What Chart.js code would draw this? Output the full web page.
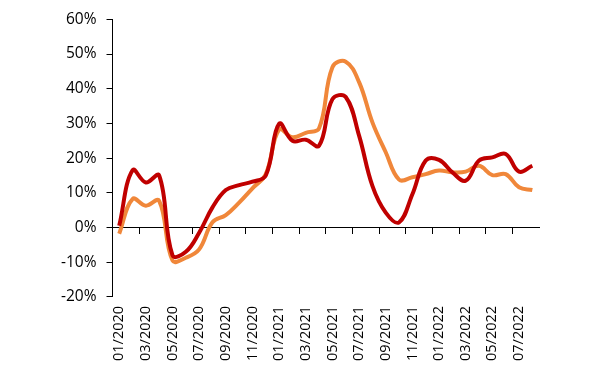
<!DOCTYPE html>
<html>
<head>
<meta charset="utf-8">
<script src="https://cdn.jsdelivr.net/npm/chart.js@4/dist/chart.umd.min.js"></script>
<style>
  html, body { margin: 0; padding: 0; background: #fff; }
  #wrap { width: 592px; height: 370px; position: relative; }
</style>
</head>
<body>
<div id="wrap"><canvas id="c"></canvas></div>
<script>
const categories = [
  "01/2020","02/2020","03/2020","04/2020","05/2020","06/2020","07/2020","08/2020",
  "09/2020","10/2020","11/2020","12/2020","01/2021","02/2021","03/2021","04/2021",
  "05/2021","06/2021","07/2021","08/2021","09/2021","10/2021","11/2021","12/2021",
  "01/2022","02/2022","03/2022","04/2022","05/2022","06/2022","07/2022","08/2022"
];
const seriesRed = [
  0.5, 16.5, 13, 15, -8, -7, -1.5, 5.8,
  10.8, 12.2, 13.2, 15, 29.9, 25, 25.3, 23.6,
  37, 37.6, 26.5, 12, 4.3, 1.5, 9.6, 19.3,
  19.5, 15.9, 13.5, 19.3, 20.2, 21.2, 16.1, 17.8
];
const seriesOrange = [
  -1.8, 8.2, 6.3, 7.7, -9.5, -8.7, -6.3, 1.5,
  3.6, 7.2, 11.3, 15.4, 28.2, 26, 27.3, 28.6,
  46.2, 47.8, 41.9, 30.3, 21.7, 13.8, 14.5, 15.4,
  16.4, 15.9, 16.1, 17.8, 15.1, 15.4, 11.6, 10.8
];
const yTicks = [-20, -10, 0, 10, 20, 30, 40, 50, 60];

const FONT_Y = { family: "'Open Sans', sans-serif", size: 15.5 };
const FONT_X = { family: "'Open Sans', sans-serif", size: 14.5 };

new Chart(document.getElementById('c'), {
  type: 'line',
  data: {
    labels: categories,
    datasets: [
      {
        data: seriesRed,
        borderColor: '#C00000',
        borderWidth: 4,
        pointRadius: 0,
        tension: 0.4,
        fill: false,
        xAxisID: 'x',
        yAxisID: 'y'
      },
      {
        data: seriesOrange,
        borderColor: '#F0873A',
        borderWidth: 4,
        pointRadius: 0,
        tension: 0.4,
        fill: false,
        xAxisID: 'x',
        yAxisID: 'y'
      }
    ]
  },
  options: {
    responsive: true,
    maintainAspectRatio: false,
    animation: false,
    layout: { padding: { left: 51, right: 53, top: 9, bottom: 0 } },
    plugins: { legend: { display: false }, tooltip: { enabled: false } },
    scales: {
      x: {
        type: 'category',
        position: 'bottom',
        offset: true,
        border: { display: false },
        grid: { display: false, drawTicks: false },
        ticks: {
          autoSkip: false,
          maxRotation: 90,
          minRotation: 90,
          padding: 9,
          color: '#000',
          font: FONT_X,
          callback: function (v, i) { return i % 2 === 0 ? categories[i] : ''; }
        }
      },
      x2: {
        type: 'category',
        position: { y: 0 },
        offset: true,
        border: { display: true, color: '#000', width: 1 },
        grid: {
          display: true,
          offset: true,
          drawOnChartArea: false,
          drawTicks: true,
          tickLength: 6,
          lineWidth: 1,
          color: function (ctx) { return ctx.index % 2 === 0 ? '#000' : 'rgba(0,0,0,0)'; }
        },
        ticks: { display: false, autoSkip: false }
      },
      y: {
        min: -20,
        max: 60,
        border: { display: true, color: '#000', width: 1 },
        grid: { drawOnChartArea: false, drawTicks: true, tickLength: 6, color: '#000' },
        afterBuildTicks: function (scale) { scale.ticks = yTicks.map(v => ({ value: v })); },
        ticks: {
          padding: 10,
          color: '#000',
          font: FONT_Y,
          callback: function (v) { return v + '%'; }
        }
      }
    }
  }
});
</script>
</body>
</html>
